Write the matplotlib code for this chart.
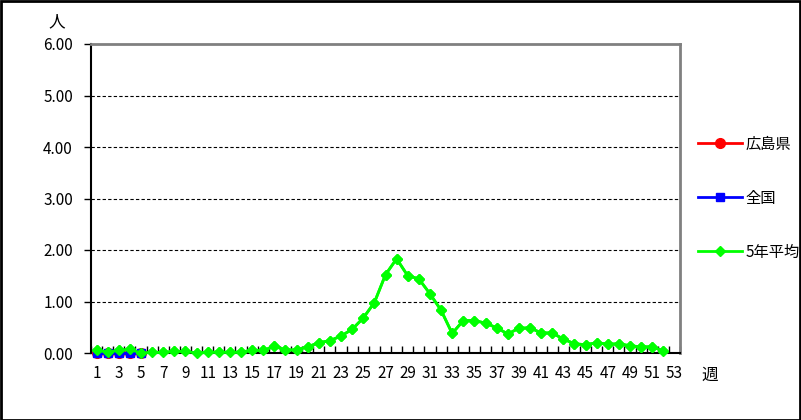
import matplotlib
matplotlib.use("Agg")
import matplotlib.pyplot as plt
from matplotlib.patches import Rectangle
import numpy as np

plt.rcParams['font.family'] = ['Noto Sans CJK JP', 'DejaVu Sans']

weeks = list(range(1, 54))
hiroshima = [0, 0, 0, 0, 0]
zenkoku = [0, 0, 0, 0, 0]
avg5 = [0.05, 0.02, 0.05, 0.07, 0.00, 0.01, 0.01, 0.03, 0.03, 0.00,
        0.01, 0.02, 0.01, 0.02, 0.05, 0.05, 0.13, 0.06, 0.06, 0.12,
        0.20, 0.24, 0.33, 0.46, 0.68, 0.98, 1.52, 1.83, 1.50, 1.44,
        1.15, 0.83, 0.38, 0.63, 0.63, 0.58, 0.49, 0.37, 0.48, 0.49,
        0.39, 0.39, 0.27, 0.18, 0.16, 0.20, 0.17, 0.18, 0.14, 0.12,
        0.12, 0.04]
yticks = [0, 1, 2, 3, 4, 5, 6]
xticklabels = [str(w) for w in range(1, 54, 2)]

fig = plt.figure(figsize=(8.01, 4.20), dpi=100)
ax = fig.add_axes([91/801, 1-353/420, (680-91)/801, (353-44)/420])

ax.plot(weeks[:len(avg5)], avg5, color='#00ff00', lw=2, marker='D', ms=5.5,
        label='5年平均', zorder=3)
ax.plot(weeks[:len(hiroshima)], hiroshima, color='#ff0000', lw=2, marker='o', ms=7,
        label='広島県', zorder=4, clip_on=False)
ax.plot(weeks[:len(zenkoku)], zenkoku, color='#0000ff', lw=2, marker='s', ms=6,
        label='全国', zorder=5, clip_on=False)
ax.plot(weeks[:len(avg5)], avg5, color='#00ff00', lw=2, marker='D', ms=5.5,
        zorder=6, clip_on=False)

ax.set_xlim(0.5, 53.5)
ax.set_ylim(0, 6)
ax.set_yticks(yticks)
ax.set_yticklabels([f"{v:.2f}" for v in yticks], fontsize=11)
ax.set_xticks(list(range(1, 54, 2)))
ax.set_xticklabels(xticklabels, fontsize=11)
ax.tick_params(axis='x', which='major', length=0, pad=9)
ax.set_xticks(np.arange(0.5, 54, 1), minor=True)
ax.tick_params(axis='x', which='minor', direction='in', length=5, width=1, color='black')
ax.tick_params(axis='y', direction='out', length=5, width=1, pad=8)

for v in yticks[1:-1]:
    ax.axhline(v, color='black', lw=0.8, ls=(0, (3, 2)), zorder=1)

ax.spines['left'].set_color('black')
ax.spines['bottom'].set_color('black')
ax.spines['left'].set_linewidth(1.5)
ax.spines['bottom'].set_linewidth(1.5)
ax.spines['top'].set_color('#808080')
ax.spines['right'].set_color('#808080')
ax.spines['top'].set_linewidth(2)
ax.spines['right'].set_linewidth(2)

fig.text(57/801, 1-22/420, '人', fontsize=12, ha='center', va='center')
fig.text(710/801, 1-375/420, '週', fontsize=12, ha='center', va='center')

handles, labels = ax.get_legend_handles_labels()
order = [1, 2, 0]
leg = fig.legend([handles[i] for i in order], [labels[i] for i in order],
                 loc='upper left', bbox_to_anchor=(684/801, 1-122/420),
                 frameon=False, fontsize=11, labelspacing=2.42,
                 handlelength=2.9, handletextpad=0.25)

fig.add_artist(Rectangle((0.001, 0.001), 0.998, 0.997, transform=fig.transFigure,
                         fill=False, edgecolor='black', lw=2))

fig.savefig('out.png', dpi=100)
